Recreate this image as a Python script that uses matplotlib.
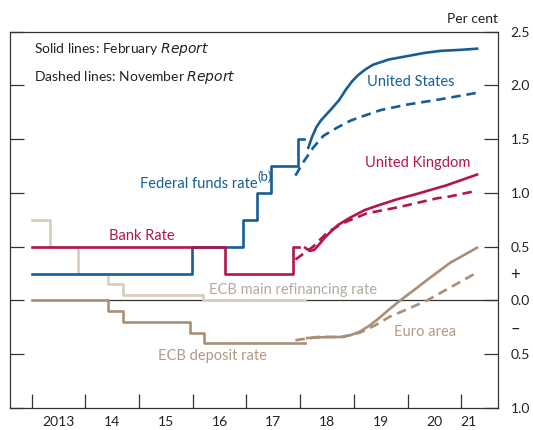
import matplotlib.pyplot as plt

plt.rcParams['font.family'] = ['Lato', 'DejaVu Sans']

# official policy rates (step series), x in years
fed_x = [2013.0, 2015.99, 2016.94, 2017.20, 2017.46, 2017.96, 2018.07]
fed_y = [0.25, 0.5, 0.75, 1.0, 1.25, 1.5, 1.5]
bank_x = [2013.0, 2016.60, 2017.87, 2017.98]
bank_y = [0.5, 0.25, 0.5, 0.5]
refi_x = [2013.0, 2013.35, 2013.87, 2014.43, 2014.71, 2016.19, 2018.09]
refi_y = [0.75, 0.5, 0.25, 0.15, 0.05, 0.0, 0.0]
depo_x = [2013.0, 2014.43, 2014.71, 2015.95, 2016.21, 2018.09]
depo_y = [0.0, -0.1, -0.2, -0.3, -0.4, -0.4]

# market curves, February Report (solid)
us_feb_x = [2018.15, 2018.22, 2018.3, 2018.38, 2018.47, 2018.58, 2018.72, 2018.85, 2018.97,
            2019.09, 2019.22, 2019.35, 2019.65, 2019.98, 2020.3, 2020.61, 2021.0, 2021.29]
us_feb_y = [1.42, 1.52, 1.61, 1.67, 1.72, 1.78, 1.86, 1.96, 2.04,
            2.10, 2.15, 2.19, 2.24, 2.27, 2.30, 2.32, 2.33, 2.34]
uk_feb_x = [2018.09, 2018.18, 2018.26, 2018.35, 2018.45, 2018.55, 2018.7, 2018.93, 2019.2,
            2019.49, 2019.8, 2020.17, 2020.72, 2021.29]
uk_feb_y = [0.49, 0.46, 0.47, 0.52, 0.58, 0.63, 0.70, 0.77, 0.84,
            0.89, 0.94, 0.99, 1.07, 1.17]
ea_feb_x = [2018.13, 2018.5, 2018.75, 2018.95, 2019.11, 2019.27, 2019.43, 2019.64, 2019.86,
            2020.1, 2020.36, 2020.79, 2021.29]
ea_feb_y = [-0.35, -0.34, -0.34, -0.32, -0.29, -0.24, -0.18, -0.09, 0.0,
            0.09, 0.19, 0.35, 0.49]

# market curves, November Report (dashed)
us_nov_x = [2017.91, 2018.05, 2018.24, 2018.43, 2018.7, 2018.93, 2019.09, 2019.5,
            2019.98, 2020.61, 2021.29]
us_nov_y = [1.16, 1.28, 1.42, 1.53, 1.61, 1.67, 1.70, 1.77, 1.82, 1.87, 1.93]
uk_nov_x = [2017.91, 2018.24, 2018.5, 2018.8, 2019.24, 2019.86, 2020.55, 2020.72, 2021.29]
uk_nov_y = [0.38, 0.50, 0.63, 0.72, 0.81, 0.87, 0.95, 0.96, 1.02]
ea_nov_x = [2017.91, 2018.31, 2018.8, 2019.11, 2019.4, 2019.67, 2020.0, 2020.36, 2020.79,
            2021.29]
ea_nov_y = [-0.37, -0.34, -0.34, -0.30, -0.23, -0.15, -0.08, 0.0, 0.12, 0.26]

years = list(range(2013, 2022))
year_labels = ['2013', '14', '15', '16', '17', '18', '19', '20', '21']
year_label_pos = [2013.5, 2014.5, 2015.5, 2016.5, 2017.5, 2018.5, 2019.5, 2020.5, 2021.13]
y_major = [2.5, 2.0, 1.5, 1.0, 0.5, 0.0, -0.5, -1.0]
y_major_labels = ['2.5', '2.0', '1.5', '1.0', '0.5', '0.0', '0.5', '1.0']

blue = '#165E96'
red = '#B3154C'
beige = '#D8CCBE'
tan = '#A88F77'
dash = (3.6, 2.2)
lw = 1.9

fig = plt.figure(figsize=(5.33, 4.30), dpi=100)
ax = fig.add_axes([9.5 / 533, 1 - 408 / 430, (498 - 9.5) / 533, (408 - 31.5) / 430])

ax.hlines(0, 2013.0, 2021.7, color='#333333', lw=0.9, zorder=1)

ax.plot(refi_x, refi_y, drawstyle='steps-post', color=beige, lw=lw, zorder=2)
ax.plot(depo_x, depo_y, drawstyle='steps-post', color=tan, lw=lw, zorder=2)
ax.plot(fed_x, fed_y, drawstyle='steps-post', color=blue, lw=lw, zorder=3)
ax.plot(bank_x, bank_y, drawstyle='steps-post', color=red, lw=lw, zorder=3)

ax.plot(us_feb_x, us_feb_y, color=blue, lw=lw, zorder=3)
ax.plot(uk_feb_x, uk_feb_y, color=red, lw=lw, zorder=3)
ax.plot(ea_feb_x, ea_feb_y, color=tan, lw=lw, zorder=3)
ax.plot(us_nov_x, us_nov_y, color=blue, lw=lw, dashes=dash, zorder=3)
ax.plot(uk_nov_x, uk_nov_y, color=red, lw=lw, dashes=dash, zorder=3)
ax.plot(ea_nov_x, ea_nov_y, color=tan, lw=lw, dashes=dash, zorder=3)

ax.set_xlim(2012.59, 2021.68)
ax.set_ylim(-1.0, 2.5)

# axes styling
for s in ax.spines.values():
    s.set_color('#333333')
    s.set_linewidth(0.9)
ax.set_xticks(years)
ax.set_xticklabels([])
ax.set_xticks(year_label_pos, minor=True)
ax.set_xticklabels(year_labels, minor=True)
ax.set_yticks(y_major)
ax.set_yticklabels(y_major_labels)
ax.set_yticks([0.25, -0.25], minor=True)
ax.set_yticklabels(['+', '\u2013'], minor=True)
ax.tick_params(axis='x', which='major', direction='in', length=10, width=0.9,
               color='#333333')
ax.tick_params(axis='x', which='minor', length=0, pad=6, labelsize=10, labelcolor='#222222')
ax.tick_params(axis='y', which='major', direction='in', length=10, width=0.9, color='#333333',
               left=True, right=True, labelleft=False, labelright=True, pad=9,
               labelsize=10, labelcolor='#222222')
ax.tick_params(axis='y', which='minor', length=0, left=False, right=True,
               labelleft=False, labelright=True, pad=9, labelsize=12, labelcolor='#222222')

fig.text(498 / 533, 1 - 18.6 / 430, 'Per cent', ha='right', va='center', fontsize=10,
         color='#222222')

# annotations
ax.text(0.05, 0.951, 'Solid lines: February $\\it{Report}$', transform=ax.transAxes,
        fontsize=10, va='center', color='#222222')
ax.text(0.05, 0.879, 'Dashed lines: November $\\it{Report}$', transform=ax.transAxes,
        fontsize=10, va='center', color='#222222')
ax.text(2020.05, 2.03, 'United States', color=blue, fontsize=10.5, ha='center', va='center')
ax.text(2017.20, 1.08, 'Federal funds rate', color=blue, fontsize=10.5, ha='right',
        va='center')
ax.text(2017.21, 1.15, '(b)', color=blue, fontsize=9.5, ha='left', va='center')
ax.text(2020.19, 1.28, 'United Kingdom', color=red, fontsize=10.5, ha='center', va='center')
ax.text(2015.05, 0.60, 'Bank Rate', color=red, fontsize=10.5, ha='center', va='center')
ax.text(2017.86, 0.10, 'ECB main refinancing rate', color='#B3AA9F', fontsize=10.5,
        ha='center', va='center')
ax.text(2016.37, -0.52, 'ECB deposit rate', color='#B09A83', fontsize=10.5, ha='center',
        va='center')
ax.text(2020.33, -0.29, 'Euro area', color='#B09A83', fontsize=10.5, ha='center', va='center')

plt.savefig('out.png', dpi=100)
